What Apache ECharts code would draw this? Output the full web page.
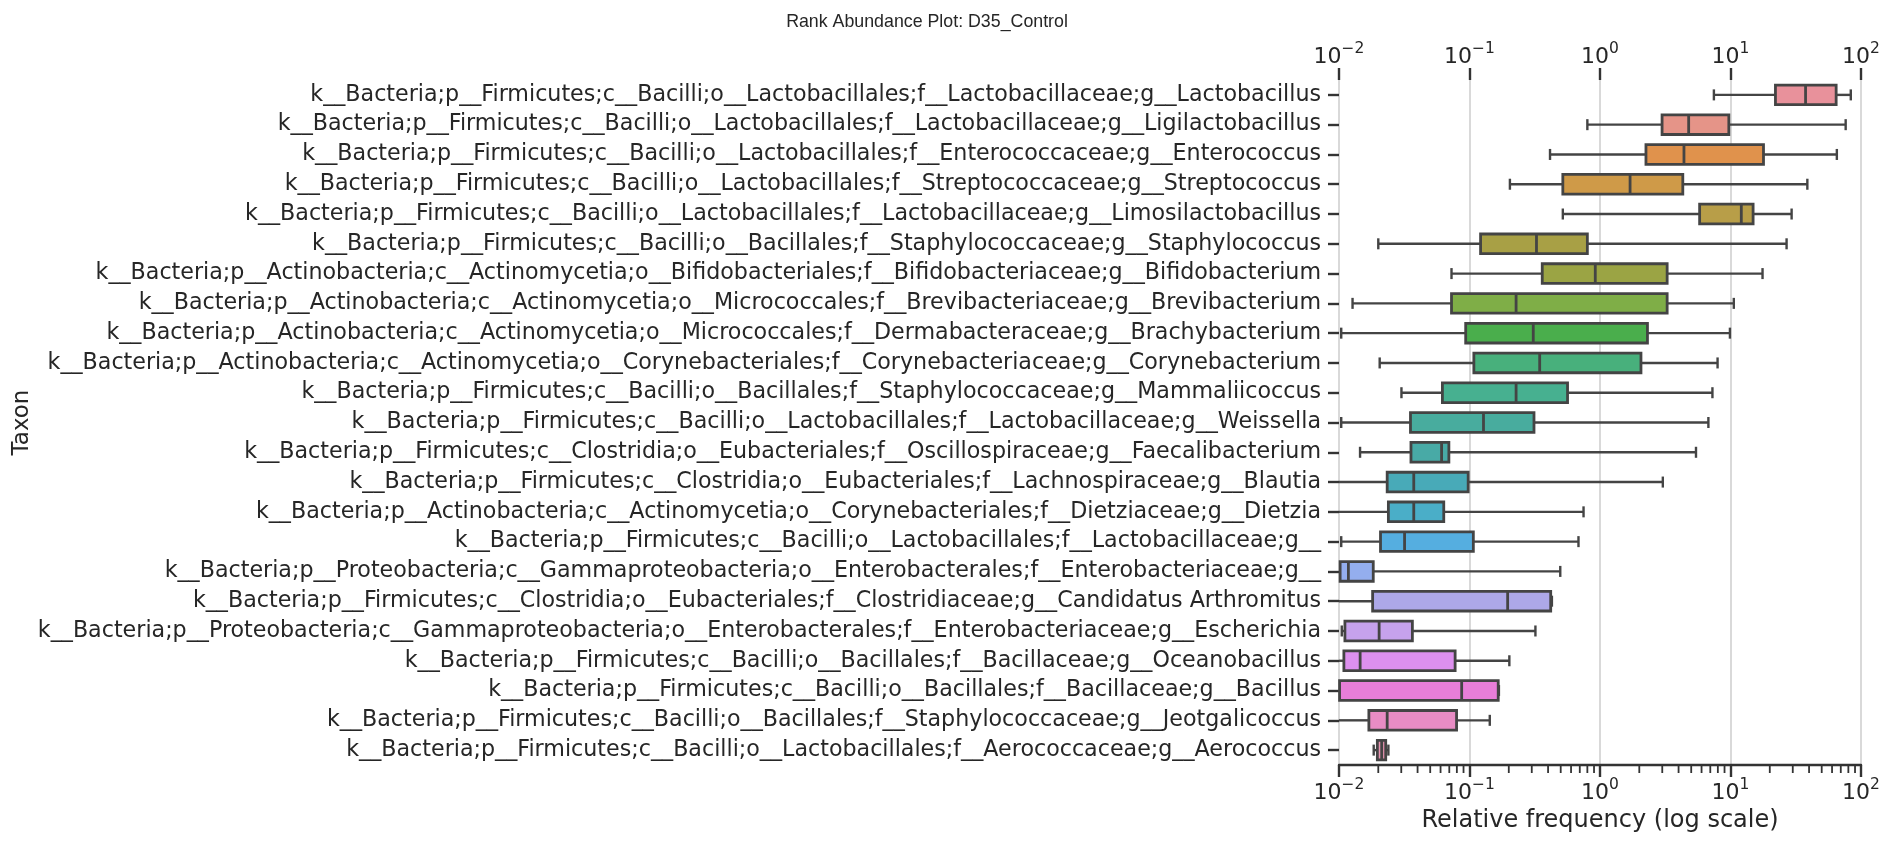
<!DOCTYPE html>
<html>
<head>
<meta charset="utf-8">
<script src="https://cdn.jsdelivr.net/npm/echarts@6/dist/echarts.min.js"></script>
<style>
  html, body { margin: 0; padding: 0; background: #ffffff; }
  #chart { width: 1895px; height: 844px; }
</style>
</head>
<body>
<div id="chart"></div>
<script>
const categories = [
  'k__Bacteria;p__Firmicutes;c__Bacilli;o__Lactobacillales;f__Lactobacillaceae;g__Lactobacillus',
  'k__Bacteria;p__Firmicutes;c__Bacilli;o__Lactobacillales;f__Lactobacillaceae;g__Ligilactobacillus',
  'k__Bacteria;p__Firmicutes;c__Bacilli;o__Lactobacillales;f__Enterococcaceae;g__Enterococcus',
  'k__Bacteria;p__Firmicutes;c__Bacilli;o__Lactobacillales;f__Streptococcaceae;g__Streptococcus',
  'k__Bacteria;p__Firmicutes;c__Bacilli;o__Lactobacillales;f__Lactobacillaceae;g__Limosilactobacillus',
  'k__Bacteria;p__Firmicutes;c__Bacilli;o__Bacillales;f__Staphylococcaceae;g__Staphylococcus',
  'k__Bacteria;p__Actinobacteria;c__Actinomycetia;o__Bifidobacteriales;f__Bifidobacteriaceae;g__Bifidobacterium',
  'k__Bacteria;p__Actinobacteria;c__Actinomycetia;o__Micrococcales;f__Brevibacteriaceae;g__Brevibacterium',
  'k__Bacteria;p__Actinobacteria;c__Actinomycetia;o__Micrococcales;f__Dermabacteraceae;g__Brachybacterium',
  'k__Bacteria;p__Actinobacteria;c__Actinomycetia;o__Corynebacteriales;f__Corynebacteriaceae;g__Corynebacterium',
  'k__Bacteria;p__Firmicutes;c__Bacilli;o__Bacillales;f__Staphylococcaceae;g__Mammaliicoccus',
  'k__Bacteria;p__Firmicutes;c__Bacilli;o__Lactobacillales;f__Lactobacillaceae;g__Weissella',
  'k__Bacteria;p__Firmicutes;c__Clostridia;o__Eubacteriales;f__Oscillospiraceae;g__Faecalibacterium',
  'k__Bacteria;p__Firmicutes;c__Clostridia;o__Eubacteriales;f__Lachnospiraceae;g__Blautia',
  'k__Bacteria;p__Actinobacteria;c__Actinomycetia;o__Corynebacteriales;f__Dietziaceae;g__Dietzia',
  'k__Bacteria;p__Firmicutes;c__Bacilli;o__Lactobacillales;f__Lactobacillaceae;g__',
  'k__Bacteria;p__Proteobacteria;c__Gammaproteobacteria;o__Enterobacterales;f__Enterobacteriaceae;g__',
  'k__Bacteria;p__Firmicutes;c__Clostridia;o__Eubacteriales;f__Clostridiaceae;g__Candidatus Arthromitus',
  'k__Bacteria;p__Proteobacteria;c__Gammaproteobacteria;o__Enterobacterales;f__Enterobacteriaceae;g__Escherichia',
  'k__Bacteria;p__Firmicutes;c__Bacilli;o__Bacillales;f__Bacillaceae;g__Oceanobacillus',
  'k__Bacteria;p__Firmicutes;c__Bacilli;o__Bacillales;f__Bacillaceae;g__Bacillus',
  'k__Bacteria;p__Firmicutes;c__Bacilli;o__Bacillales;f__Staphylococcaceae;g__Jeotgalicoccus',
  'k__Bacteria;p__Firmicutes;c__Bacilli;o__Lactobacillales;f__Aerococcaceae;g__Aerococcus'
];
// box statistics (relative frequency, %)
const whiskerLow  = [7.46, 0.80, 0.414, 0.204, 0.519, 0.0200, 0.0728, 0.0127, 0.0104, 0.0205, 0.0301, 0.0104, 0.0145, 0.006, 0.006, 0.0104, 0.006, 0.006, 0.0105, 0.006, 0.006, 0.006, 0.01845];
const q1          = [22.1, 2.99, 2.25, 0.519, 5.80, 0.1216, 0.361, 0.0728, 0.0935, 0.108, 0.0620, 0.0353, 0.0356, 0.0234, 0.0239, 0.0208, 0.0102, 0.0181, 0.0111, 0.0109, 0.0101, 0.01694, 0.01967];
const median      = [37.6, 4.78, 4.40, 1.70, 12.1, 0.326, 0.92, 0.2275, 0.308, 0.345, 0.2275, 0.128, 0.0611, 0.0374, 0.0374, 0.0318, 0.0118, 0.196, 0.0203, 0.01452, 0.0871, 0.0234, 0.02124];
const q3          = [64.5, 9.71, 17.9, 4.31, 14.9, 0.80, 3.27, 3.27, 2.31, 2.06, 0.564, 0.312, 0.0695, 0.0977, 0.0635, 0.107, 0.0183, 0.419, 0.0365, 0.0776, 0.166, 0.0796, 0.0228];
const whiskerHigh = [83.5, 76.3, 65.3, 38.8, 29.4, 26.9, 17.6, 10.6, 9.9, 7.96, 7.27, 6.77, 5.44, 3.03, 0.748, 0.684, 0.496, 0.428, 0.320, 0.202, 0.168, 0.143, 0.0239];
const palette = ['#e8919b','#e59488','#e0924c','#cf9a48','#b89e48','#a8a045','#9ba444','#7fae47','#4aae4c','#48b07c','#47b090','#48ac9e','#48aaa6','#48aab8','#4aaec8','#55aee0','#94aeee','#ada8e8','#c6a2ec','#dd90ee','#e87ed8','#e88cc4','#e893b0'];
// minor tick positions of the log axis
const minorTicks = [0.02,0.03,0.04,0.05,0.06,0.07,0.08,0.09,0.2,0.3,0.4,0.5,0.6,0.7,0.8,0.9,2,3,4,5,6,7,8,9,20,30,40,50,60,70,80,90];

const boxData = categories.map((c, i) => [i, whiskerLow[i], q1[i], median[i], q3[i], whiskerHigh[i]]);
const EDGE = '#444444';

function expLabel(v) {
  const e = Math.round(Math.log10(v));
  return '{b|10}{s|' + (e < 0 ? '\u2212' + (-e) : String(e)) + '}';
}
const richLab = {
  b: { fontSize: 22, fontFamily: 'DejaVu Sans', color: '#262626', padding: [9, 0, 0, 0] },
  s: { fontSize: 15.5, fontFamily: 'DejaVu Sans', color: '#262626', padding: [0, 0, 7, 0] }
};

const chart = echarts.init(document.getElementById('chart'), null, { renderer: 'canvas' });
chart.setOption({
  animation: false,
  backgroundColor: '#ffffff',
  title: {
    text: 'Rank Abundance Plot: D35_Control',
    left: 922, top: 8, textAlign: 'center',
    textStyle: { fontFamily: 'Liberation Sans', fontSize: 17.8, fontWeight: 'normal', color: '#262626' }
  },
  grid: { left: 1339, right: 34, top: 80, bottom: 79, containLabel: false, outerBoundsMode: 'none' },
  xAxis: [
    {
      type: 'log', min: 0.01, max: 100, logBase: 10, position: 'bottom',
      name: 'Relative frequency (log scale)', nameLocation: 'middle', nameGap: 42,
      nameTextStyle: { fontFamily: 'DejaVu Sans', fontSize: 24, color: '#262626' },
      axisLine: { show: true, lineStyle: { color: '#333333', width: 2.4 } },
      axisTick: { show: true, length: 12, inside: false, lineStyle: { color: '#333333', width: 2.4 } },
      axisLabel: { formatter: expLabel, rich: richLab, margin: 8 },
      splitLine: { show: true, lineStyle: { color: '#cccccc', width: 1.5 } }
    },
    {
      type: 'log', min: 0.01, max: 100, logBase: 10, position: 'top',
      axisLine: { show: false },
      axisTick: { show: true, length: 12, lineStyle: { color: '#333333', width: 2.4 } },
      axisLabel: { formatter: expLabel, rich: richLab, margin: 12 },
      splitLine: { show: false }
    }
  ],
  yAxis: {
    type: 'category', data: categories, inverse: true,
    name: 'Taxon', nameLocation: 'middle', nameRotate: 90, nameGap: 1304,
    nameTextStyle: { fontFamily: 'DejaVu Sans', fontSize: 23, color: '#262626' },
    axisLine: { show: false },
    axisTick: { show: true, alignWithLabel: true, length: 11, lineStyle: { color: '#333333', width: 2.4 } },
    axisLabel: { fontFamily: 'DejaVu Sans', fontSize: 22.2, color: '#262626', margin: 18, interval: 0 },
    splitLine: { show: false }
  },
  series: [
    {
      type: 'custom',
      xAxisIndex: 0,
      data: boxData,
      encode: { x: [1, 2, 3, 4, 5], y: 0 },
      renderItem: function (params, api) {
        const idx = api.value(0);
        const cs = params.coordSys;
        const band = api.size([0, 1])[1];
        const yc = api.coord([1, idx])[1];
        const h = band * 0.66;
        const capH = band * 0.37;
        const xl = cs.x;
        const pLow = api.coord([api.value(1), idx])[0];
        const pQ1 = Math.max(api.coord([api.value(2), idx])[0], xl);
        const pMed = api.coord([api.value(3), idx])[0];
        const pQ3 = api.coord([api.value(4), idx])[0];
        const pHigh = api.coord([api.value(5), idx])[0];
        const lowClipped = pLow < xl;
        const pL = Math.max(pLow, xl);
        const stroke = { stroke: EDGE, lineWidth: 2.4, fill: null };
        const children = [];
        children.push({ type: 'line', shape: { x1: pL, y1: yc, x2: pQ1, y2: yc }, style: stroke });
        children.push({ type: 'line', shape: { x1: pQ3, y1: yc, x2: pHigh, y2: yc }, style: stroke });
        if (!lowClipped) {
          children.push({ type: 'line', shape: { x1: pL, y1: yc - capH / 2, x2: pL, y2: yc + capH / 2 }, style: stroke });
        }
        children.push({ type: 'line', shape: { x1: pHigh, y1: yc - capH / 2, x2: pHigh, y2: yc + capH / 2 }, style: stroke });
        children.push({ type: 'rect', shape: { x: pQ1, y: yc - h / 2, width: pQ3 - pQ1, height: h },
          style: { fill: palette[params.dataIndex], stroke: EDGE, lineWidth: 2.8 } });
        children.push({ type: 'line', shape: { x1: pMed, y1: yc - h / 2, x2: pMed, y2: yc + h / 2 }, style: { stroke: EDGE, lineWidth: 2.8 } });
        return { type: 'group', children: children };
      },
      z: 5
    },
    {
      type: 'custom',
      xAxisIndex: 0,
      data: minorTicks.map(v => [v, 0]),
      encode: { x: 0, y: 1 },
      silent: true,
      renderItem: function (params, api) {
        const cs = params.coordSys;
        const x = api.coord([api.value(0), 0])[0];
        const yb = cs.y + cs.height;
        return { type: 'line', shape: { x1: x, y1: yb, x2: x, y2: yb + 8 }, style: { stroke: '#333333', lineWidth: 1.8 } };
      },
      z: 6
    }
  ]
});
</script>
</body>
</html>
